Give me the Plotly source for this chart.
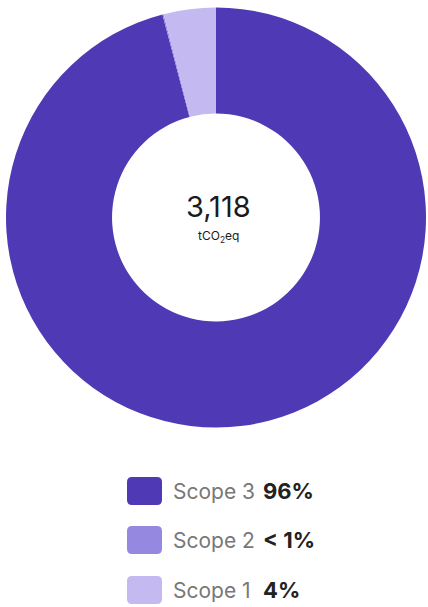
import plotly.graph_objects as go

W, H = 428, 607

labels = ["Scope 3", "Scope 2", "Scope 1"]
values = [2990, 3, 125]
pct_labels = ["96%", "< 1%", "4%"]
colors = ["#5039B5", "#9488E1", "#C4BAF1"]
unit_label = "tCO<sub>2</sub>eq"

fig = go.Figure()

cx, cy, R = 216, 217.5, 210
fig.add_trace(go.Pie(
    labels=labels,
    values=values,
    hole=0.495,
    sort=False,
    direction="clockwise",
    rotation=0,
    marker=dict(colors=colors, line=dict(width=0)),
    textinfo="none",
    hoverinfo="label+percent",
    showlegend=False,
    domain=dict(x=[(cx - R) / W, (cx + R) / W], y=[1 - (cy + R) / H, 1 - (cy - R) / H]),
))


def px(x):
    return x / W


def py(y):
    return 1 - y / H


total = sum(values)
annotations = [
    dict(x=px(218), y=py(207), xref="paper", yref="paper", text=f"{total:,}",
         showarrow=False, font=dict(family="Inter", size=29, color="#1a1a1a"),
         xanchor="center", yanchor="middle"),
    dict(x=px(218), y=py(236), xref="paper", yref="paper", text=unit_label,
         showarrow=False, font=dict(family="Inter", size=12, color="#1a1a1a"),
         xanchor="center", yanchor="middle"),
]

shapes = []
row_y = [491, 540, 590]
sq_x0, sq_x1, sq_h, rr = 127, 162, 28, 5
for i, (lab, pct, col) in enumerate(zip(labels, pct_labels, colors)):
    yc = row_y[i]
    x0, x1 = sq_x0, sq_x1
    y0, y1 = yc - sq_h / 2, yc + sq_h / 2
    path = (
        f"M {px(x0 + rr)},{py(y0)} L {px(x1 - rr)},{py(y0)} "
        f"Q {px(x1)},{py(y0)} {px(x1)},{py(y0 + rr)} "
        f"L {px(x1)},{py(y1 - rr)} Q {px(x1)},{py(y1)} {px(x1 - rr)},{py(y1)} "
        f"L {px(x0 + rr)},{py(y1)} Q {px(x0)},{py(y1)} {px(x0)},{py(y1 - rr)} "
        f"L {px(x0)},{py(y0 + rr)} Q {px(x0)},{py(y0)} {px(x0 + rr)},{py(y0)} Z"
    )
    shapes.append(dict(type="path", path=path, xref="paper", yref="paper",
                       fillcolor=col, line=dict(width=0)))
    annotations.append(dict(x=px(171), y=py(yc), xref="paper", yref="paper", text=lab,
                            showarrow=False, xanchor="left", yanchor="middle",
                            font=dict(family="Inter", size=21, color="#787878")))
    annotations.append(dict(x=px(261), y=py(yc), xref="paper", yref="paper", text=f"<b>{pct}</b>",
                            showarrow=False, xanchor="left", yanchor="middle",
                            font=dict(family="Inter", size=22, color="#222222")))

fig.update_layout(
    width=W, height=H,
    margin=dict(l=0, r=0, t=0, b=0),
    paper_bgcolor="white",
    plot_bgcolor="white",
    shapes=shapes,
    annotations=annotations,
)

fig.write_html("out.html", config={"displayModeBar": False},
               post_script="document.body.style.margin='0';document.body.style.overflow='hidden';")
